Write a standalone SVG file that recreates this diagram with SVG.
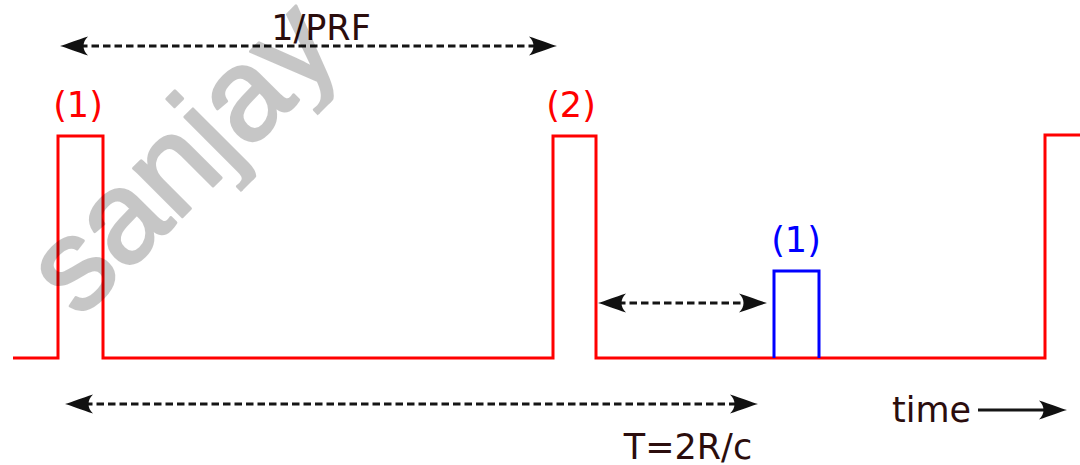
<svg xmlns="http://www.w3.org/2000/svg" width="1080" height="465" viewBox="0 0 1080 465">
  <style>
    .lbl { font-family: "DejaVu Sans", Verdana, sans-serif; font-size: 35px; }
    .dark { fill: #2b0d0d; }
    .red { fill: #ff0000; }
    .blue { fill: #0000ff; }
    .dash { fill: none; stroke: #151515; stroke-width: 3; stroke-dasharray: 7.5 4; }
    .solid { fill: none; stroke: #151515; stroke-width: 3; }
    .pulse { fill: none; stroke-width: 3; stroke-linejoin: miter; }
  </style>
  <defs>
    <!-- concave arrowhead; tip 20px beyond the line end -->
    <marker id="head" viewBox="-2 -12 32 24" refX="8" refY="0" markerWidth="32" markerHeight="24"
            markerUnits="userSpaceOnUse" orient="auto-start-reverse">
      <path d="M28,0 C21,-2 11,-6 0,-9.5 C6,-4 6,4 0,9.5 C11,6 21,2 28,0 Z" fill="#111"/>
    </marker>
    <clipPath id="wmClip" clipPathUnits="userSpaceOnUse">
      <rect x="-50" y="-300" width="900" height="324"/>
    </clipPath>
  </defs>

  <rect width="1080" height="465" fill="#ffffff"/>

  <!-- transmitted pulse train -->
  <g id="tx-train">
    <path class="pulse" stroke="#ff0000" d="M13,358 H58 V136 H103 V358 H553 V136 H596 V358 H1045 V135 H1082"/>
  </g>

  <!-- echo of pulse (1) -->
  <g id="echo">
    <path class="pulse" stroke="#0000ff" d="M774,358 V271 H819 V358"/>
  </g>

  <!-- interval arrows -->
  <g id="connectors">
    <line class="dash" x1="80" y1="46" x2="537" y2="46" marker-start="url(#head)" marker-end="url(#head)"/>
    <line class="dash" x1="618" y1="303" x2="747" y2="303" marker-start="url(#head)" marker-end="url(#head)"/>
    <line class="dash" x1="85" y1="404" x2="738" y2="404" marker-start="url(#head)" marker-end="url(#head)"/>
    <line class="solid" x1="978" y1="410" x2="1047" y2="410" marker-end="url(#head)"/>
  </g>

  <g id="labels">
    <text class="lbl dark" x="321" y="40" text-anchor="middle">1/PRF</text>
    <text class="lbl red" x="78" y="117" text-anchor="middle">(1)</text>
    <text class="lbl red" x="571" y="117" text-anchor="middle">(2)</text>
    <text class="lbl blue" x="796" y="252" text-anchor="middle">(1)</text>
    <text class="lbl dark" x="892" y="422">time</text>
    <text class="lbl dark" x="688" y="459" text-anchor="middle">T=2R/c</text>
  </g>

  <!-- watermark -->
  <g id="watermark" transform="translate(79,320) rotate(-45)" opacity="0.22">
    <text x="0" y="0" clip-path="url(#wmClip)" font-family="Liberation Sans, Arial, sans-serif" font-size="130" fill="#000" stroke="#000" stroke-width="3" stroke-linejoin="round">sanjay</text>
  </g>
</svg>
